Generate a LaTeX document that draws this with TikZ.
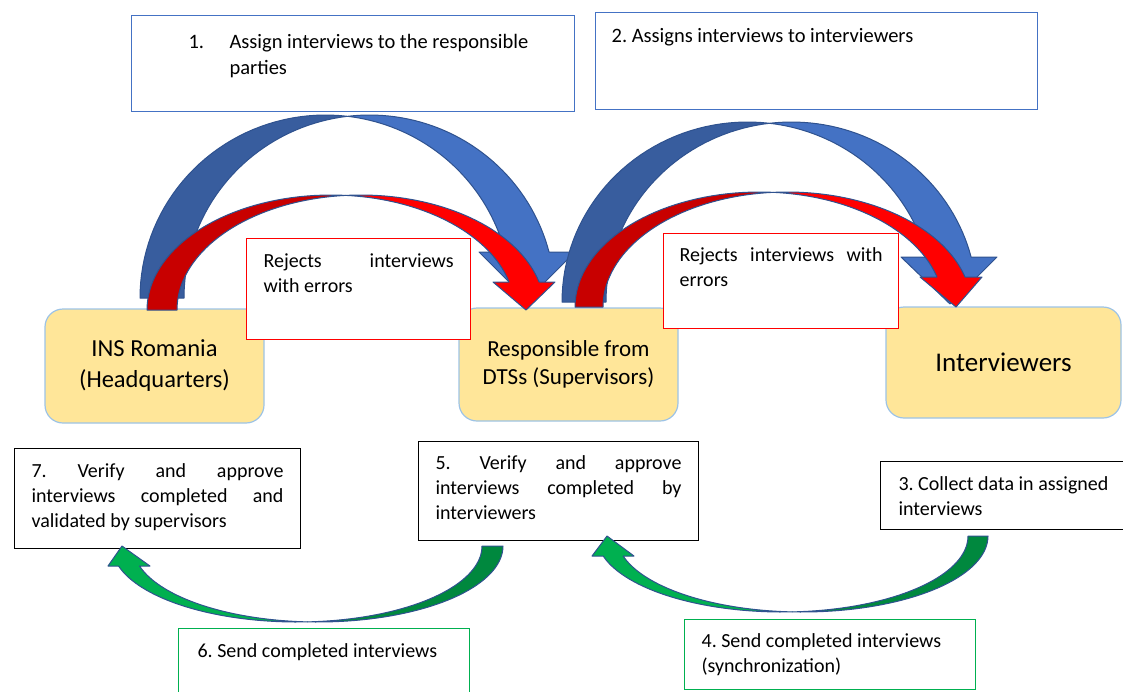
\documentclass[tikz,border=0pt]{standalone}
\usepackage{fontspec}
\setmainfont{Carlito}
\usetikzlibrary{positioning}
\frenchspacing

\definecolor{frontblue}{HTML}{4472C4}
\definecolor{backblue}{HTML}{385D9E}
\definecolor{frontred}{HTML}{FF0000}
\definecolor{backred}{HTML}{C80000}
\definecolor{frontgreen}{HTML}{00B050}
\definecolor{backgreen}{HTML}{00883E}
\definecolor{edgeblue}{HTML}{2F528F}
\definecolor{boxblue}{HTML}{4472C4}
\definecolor{boxgreen}{HTML}{00B050}
\definecolor{sand}{HTML}{FFE699}
\definecolor{sandedge}{HTML}{9DC3E6}

% testo allineato in alto dentro i riquadri
\newcommand{\taskpar}[3]{\parbox[t][#2][t]{#1}{\strut#3}}

\begin{document}
\begin{tikzpicture}[x=1pt, y=-1pt,
    unit/.style={rectangle, rounded corners=18pt, draw=sandedge, fill=sand, line width=1.2pt, align=center, inner sep=0pt},
    taskbox/.style={rectangle, draw=black, fill=white, line width=1pt, anchor=north west, font=\fontsize{20}{25}\selectfont},
    assignbox/.style={taskbox, draw=boxblue, line width=1.2pt, font=\fontsize{20.5}{26}\selectfont},
    rejectbox/.style={taskbox, draw=red, line width=1.2pt},
    sendbox/.style={taskbox, draw=boxgreen, line width=1.2pt},
    arrowedge/.style={draw=edgeblue, line width=1pt, line join=round},
    arcpts/.style={samples=40, variable=\t}]
    \useasboundingbox (0,0) rectangle (1123,691);

    % Sedi
    \node[unit, minimum width=219pt, minimum height=114pt, font=\fontsize{24.5}{31}\selectfont] (ins) at (154.5,366) {INS Romania\\(Headquarters)};
    \node[unit, minimum width=219pt, minimum height=113pt, font=\fontsize{23}{28}\selectfont] (resp) at (568.5,364.5) {Responsible from\\DTSs (Supervisors)};
    \node[unit, minimum width=235pt, minimum height=111pt, font=\fontsize{27}{32}\selectfont] (intv) at (1003.5,362.5) {Interviewers};

    % Assegnazioni
    \node[assignbox, inner xsep=16pt, inner ysep=14.3pt] (assign) at (131,15) {\taskpar{411pt}{67.4pt}{\hspace*{41pt}\makebox[41pt][l]{1.}Assign interviews to the responsible\\\hspace*{82pt}parties}};
    \node[assignbox, inner xsep=16pt, inner ysep=11.3pt] (distrib) at (595,12) {\taskpar{410pt}{74.4pt}{2. Assigns interviews to interviewers}};

    % Frecce blu e rosse: ins -> resp
    \filldraw[arrowedge, fill=backblue] plot[arcpts, domain=180:276.81] ({325.5+185.5*cos(\t)},{298+183*sin(\t)}) -- plot[arcpts, domain=263.19:180] ({369.5+185.5*cos(\t)},{298+183*sin(\t)}) -- cycle;
    \filldraw[arrowedge, fill=frontblue] plot[arcpts, domain=263.19:345.44] ({369.5+185.5*cos(\t)},{298+183*sin(\t)}) -- (575,252) -- (527,300) -- (479,252) -- plot[arcpts, domain=345.44:276.81] ({325.5+185.5*cos(\t)},{298+183*sin(\t)}) -- cycle;
    \filldraw[arrowedge, fill=backred] plot[arcpts, domain=180:274.68] ({330.8+183.8*cos(\t)},{310+115*sin(\t)}) -- plot[arcpts, domain=265.32:180] ({360.8+183.8*cos(\t)},{310+115*sin(\t)}) -- cycle;
    \filldraw[arrowedge, fill=frontred] plot[arcpts, domain=265.32:345.91] ({360.8+183.8*cos(\t)},{310+115*sin(\t)}) -- (555,282) -- (526,310) -- (493,282) -- plot[arcpts, domain=345.91:274.68] ({330.8+183.8*cos(\t)},{310+115*sin(\t)}) -- cycle;

    % Frecce blu e rosse: resp -> intv
    \filldraw[arrowedge, fill=backblue] plot[arcpts, domain=180:276.81] ({747.5+185.5*cos(\t)},{302+180*sin(\t)}) -- plot[arcpts, domain=263.19:180] ({791.5+185.5*cos(\t)},{302+180*sin(\t)}) -- cycle;
    \filldraw[arrowedge, fill=frontblue] plot[arcpts, domain=263.19:345.52] ({791.5+185.5*cos(\t)},{302+180*sin(\t)}) -- (997,257) -- (950,304) -- (901,257) -- plot[arcpts, domain=345.52:276.81] ({747.5+185.5*cos(\t)},{302+180*sin(\t)}) -- cycle;
    \filldraw[arrowedge, fill=backred] plot[arcpts, domain=180:274.36] ({759.2+184.2*cos(\t)},{307+115*sin(\t)}) -- plot[arcpts, domain=265.64:180] ({787.2+184.2*cos(\t)},{307+115*sin(\t)}) -- cycle;
    \filldraw[arrowedge, fill=frontred] plot[arcpts, domain=265.64:344.88] ({787.2+184.2*cos(\t)},{307+115*sin(\t)}) -- (982,277) -- (956,307) -- (920,277) -- plot[arcpts, domain=344.88:274.36] ({759.2+184.2*cos(\t)},{307+115*sin(\t)}) -- cycle;

    % Rifiuti
    \node[rejectbox, inner xsep=17pt, inner ysep=11pt] (reject1) at (246,238) {\taskpar{190pt}{79pt}{Rejects interviews\linebreak with errors}};
    \node[rejectbox, inner xsep=16pt, inner ysep=10.5pt] (reject2) at (663,233) {\taskpar{203pt}{74pt}{Rejects interviews with\linebreak errors}};

    % Verifiche e raccolta
    \node[taskbox, inner xsep=17pt, inner ysep=11pt] (verify7) at (14,448) {\taskpar{252pt}{78pt}{7. Verify and approve\linebreak interviews completed and\linebreak validated by supervisors}};
    \node[taskbox, inner xsep=17pt, inner ysep=10pt] (verify5) at (418,441) {\taskpar{246pt}{79pt}{5. Verify and approve\linebreak interviews completed by\linebreak interviewers}};
    \node[taskbox, inner xsep=18pt, inner ysep=11pt] (collect) at (880,461) {\taskpar{234pt}{46pt}{3. Collect data in assigned\\interviews}};

    % Invii
    \node[sendbox, inner xsep=19pt, inner ysep=11pt] (send6) at (178,628) {\taskpar{253pt}{48pt}{6. Send completed interviews}};
    \node[sendbox, inner xsep=17pt, inner ysep=10pt] (send4) at (684,619) {\taskpar{257pt}{50pt}{4. Send completed interviews\\(synchronization)}};

    % Frecce verdi: verify5 -> verify7, collect -> verify5
    \filldraw[arrowedge, fill=backgreen] plot[arcpts, domain=0:93.25] ({318+185*cos(\t)},{546+76*sin(\t)}) -- plot[arcpts, domain=86.75:0] ({297+185*cos(\t)},{546+76*sin(\t)}) -- cycle;
    \filldraw[arrowedge, fill=frontgreen] plot[arcpts, domain=86.75:164.74] ({297+185*cos(\t)},{546+76*sin(\t)}) -- (108,566) -- (122,546) -- (150,566) -- plot[arcpts, domain=164.74:93.25] ({318+185*cos(\t)},{546+76*sin(\t)}) -- cycle;
    \filldraw[arrowedge, fill=backgreen] plot[arcpts, domain=0:93.09] ({802.3+185.7*cos(\t)},{536+76*sin(\t)}) -- plot[arcpts, domain=86.91:0] ({782.3+185.7*cos(\t)},{536+76*sin(\t)}) -- cycle;
    \filldraw[arrowedge, fill=frontgreen] plot[arcpts, domain=86.91:164.74] ({782.3+185.7*cos(\t)},{536+76*sin(\t)}) -- (592,556) -- (607,536) -- (634,556) -- plot[arcpts, domain=164.74:93.09] ({802.3+185.7*cos(\t)},{536+76*sin(\t)}) -- cycle;
\end{tikzpicture}
\end{document}
